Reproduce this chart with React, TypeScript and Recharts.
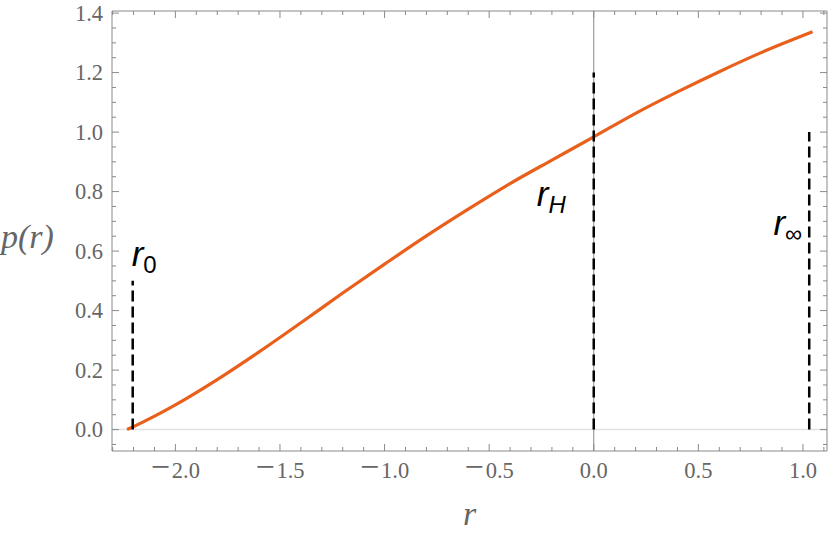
import { LineChart, Line, XAxis, YAxis, ReferenceLine } from 'recharts'

// curve
const rValues = [-2.231, -2.2, -2.0, -1.8, -1.6, -1.4, -1.2, -1.0, -0.8, -0.6, -0.4, -0.2, 0.0, 0.2, 0.4, 0.6, 0.8, 1.046]
const pValues = [0.0, 0.01, 0.083, 0.168, 0.261, 0.359, 0.459, 0.556, 0.651, 0.741, 0.827, 0.906, 0.984, 1.063, 1.135, 1.203, 1.267, 1.337]

const xTicks = [-2.3, -2.2, -2.1, -2.0, -1.9, -1.8, -1.7, -1.6, -1.5, -1.4, -1.3, -1.2, -1.1, -1.0, -0.9, -0.8, -0.7, -0.6, -0.5, -0.4, -0.3, -0.2, -0.1, 0.0, 0.1, 0.2, 0.3, 0.4, 0.5, 0.6, 0.7, 0.8, 0.9, 1.0, 1.1]
const xMajor = [-2.0, -1.5, -1.0, -0.5, 0.0, 0.5, 1.0]
const yTicks = [-0.05, 0.0, 0.05, 0.1, 0.15, 0.2, 0.25, 0.3, 0.35, 0.4, 0.45, 0.5, 0.55, 0.6, 0.65, 0.7, 0.75, 0.8, 0.85, 0.9, 0.95, 1.0, 1.05, 1.1, 1.15, 1.2, 1.25, 1.3, 1.35, 1.4]
const yMajor = [0.0, 0.2, 0.4, 0.6, 0.8, 1.0, 1.2, 1.4]

// dashed markers: position, height, subscript
const markerX = [-2.204, 0.0, 1.03]
const markerTop = [0.5, 1.2, 1.0]
const markerSub = ['0', 'H', '\u221E']

const data = rValues.map((r, i) => ({ r, p: pValues[i] }))

const frame = '#8a8a8a'
const tickText = '#666'
const serif = '"Liberation Serif", "DejaVu Serif", serif'
const sans = '"Liberation Sans", Arial, sans-serif'

const isMajor = (list: number[], v: number) => list.some(m => Math.abs(m - v) < 1e-6)

const TickLabel = ({ x, y, v, anchor }: { x: number; y: number; v: number; anchor: string }) => {
    const s = Math.abs(v).toFixed(1)
    const neg = v < -1e-9
    return (
        <text x={x} y={y} textAnchor={anchor} fontFamily={serif} fontSize={22.5} fill={tickText}>
            {neg && <tspan fontSize={34}>{'\u2212'}</tspan>}
            {neg && <tspan>{'\u200A'}</tspan>}
            <tspan>{s}</tspan>
        </text>
    )
}

const BottomTick = (props: any) => {
    const { x, y, payload } = props
    const major = isMajor(xMajor, payload.value)
    return (
        <g>
            <line x1={x} x2={x} y1={y} y2={y - (major ? 7 : 4)} stroke={frame} />
            {major && <TickLabel x={x} y={y + 27} v={payload.value} anchor="middle" />}
        </g>
    )
}

const TopTick = (props: any) => {
    const { x, y, payload } = props
    const major = isMajor(xMajor, payload.value)
    return <line x1={x} x2={x} y1={y} y2={y + (major ? 7 : 4)} stroke={frame} />
}

const LeftTick = (props: any) => {
    const { x, y, payload } = props
    const major = isMajor(yMajor, payload.value)
    return (
        <g>
            <line x1={x} x2={x + (major ? 7 : 4)} y1={y} y2={y} stroke={frame} />
            {major && <TickLabel x={x - 9} y={y + 7.5} v={payload.value} anchor="end" />}
        </g>
    )
}

const RightTick = (props: any) => {
    const { x, y, payload } = props
    const major = isMajor(yMajor, payload.value)
    return <line x1={x} x2={x - (major ? 7 : 4)} y1={y} y2={y} stroke={frame} />
}

// label offsets relative to the top of each dashed line
const labelPos = [
    { dx: -1, dy: -15, anchor: 'start', subItalic: false },
    { dx: -28, dy: 133, anchor: 'end', subItalic: true },
    { dx: -7, dy: 103, anchor: 'end', subItalic: false },
]

const markerLabel = (i: number) => (props: any) => {
    const vb = props.viewBox || {}
    const pos = labelPos[i]
    return (
        <text
            x={vb.x + pos.dx}
            y={vb.y + pos.dy}
            textAnchor={pos.anchor}
            fontFamily={sans}
            fill="#000"
        >
            <tspan fontSize={35} fontStyle="italic">r</tspan>
            <tspan fontSize={24} dy={7} fontStyle={pos.subItalic ? 'italic' : 'normal'}>{markerSub[i]}</tspan>
        </text>
    )
}

export default function App() {
    return (
        <div style={{ position: 'absolute', left: 0, top: 0, width: 830, height: 537, background: '#fff' }}>
            <LineChart width={830} height={537} data={data} margin={{ top: 0, right: 0, bottom: 0, left: 0 }}>
                <XAxis
                    xAxisId="b"
                    dataKey="r"
                    type="number"
                    domain={[-2.303, 1.115]}
                    allowDataOverflow
                    ticks={xTicks}
                    interval={0}
                    tick={BottomTick}
                    tickSize={0}
                    tickMargin={0}
                    tickLine={false}
                    axisLine={{ stroke: frame }}
                    height={86}
                    label={(p: any) => {
                        const vb = p.viewBox
                        return (
                            <text x={vb.x + vb.width / 2} y={vb.y + 74} textAnchor="middle" fontFamily={serif} fontStyle="italic" fontSize={34} fill={tickText}>
                                r
                            </text>
                        )
                    }}
                />
                <XAxis
                    xAxisId="t"
                    orientation="top"
                    dataKey="r"
                    type="number"
                    domain={[-2.303, 1.115]}
                    allowDataOverflow
                    ticks={xTicks}
                    interval={0}
                    tick={TopTick}
                    tickSize={0}
                    tickMargin={0}
                    tickLine={false}
                    axisLine={{ stroke: frame }}
                    height={11}
                />
                <YAxis
                    yAxisId="l"
                    type="number"
                    domain={[-0.072, 1.407]}
                    allowDataOverflow
                    ticks={yTicks}
                    interval={0}
                    tick={LeftTick}
                    tickSize={0}
                    tickMargin={0}
                    tickLine={false}
                    axisLine={{ stroke: frame }}
                    width={112}
                    label={(p: any) => {
                        const vb = p.viewBox
                        return (
                            <text x={vb.x + 1} y={248} textAnchor="start" fontFamily={serif} fontStyle="italic" fontSize={34} fill={tickText}>
                                p(r)
                            </text>
                        )
                    }}
                />
                <YAxis
                    yAxisId="rt"
                    orientation="right"
                    type="number"
                    domain={[-0.072, 1.407]}
                    allowDataOverflow
                    ticks={yTicks}
                    interval={0}
                    tick={RightTick}
                    tickSize={0}
                    tickMargin={0}
                    tickLine={false}
                    axisLine={{ stroke: frame }}
                    width={3}
                />
                <ReferenceLine xAxisId="b" yAxisId="l" y={0} stroke="#e2e2e2" strokeWidth={1.5} />
                <ReferenceLine xAxisId="b" yAxisId="l" x={0} stroke="#888" strokeWidth={1} />
                <Line
                    xAxisId="b"
                    yAxisId="l"
                    type="monotone"
                    dataKey="p"
                    stroke="#e8601c"
                    strokeWidth={3.2}
                    dot={false}
                    isAnimationActive={false}
                />
                {markerX.map((mx, i) => (
                    <ReferenceLine
                        key={i}
                        xAxisId="b"
                        yAxisId="l"
                        segment={[{ x: mx, y: 0 }, { x: mx, y: markerTop[i] }]}
                        stroke="#000"
                        strokeWidth={2.5}
                        strokeDasharray="11 5"
                        label={markerLabel(i)}
                    />
                ))}
            </LineChart>
        </div>
    )
}
